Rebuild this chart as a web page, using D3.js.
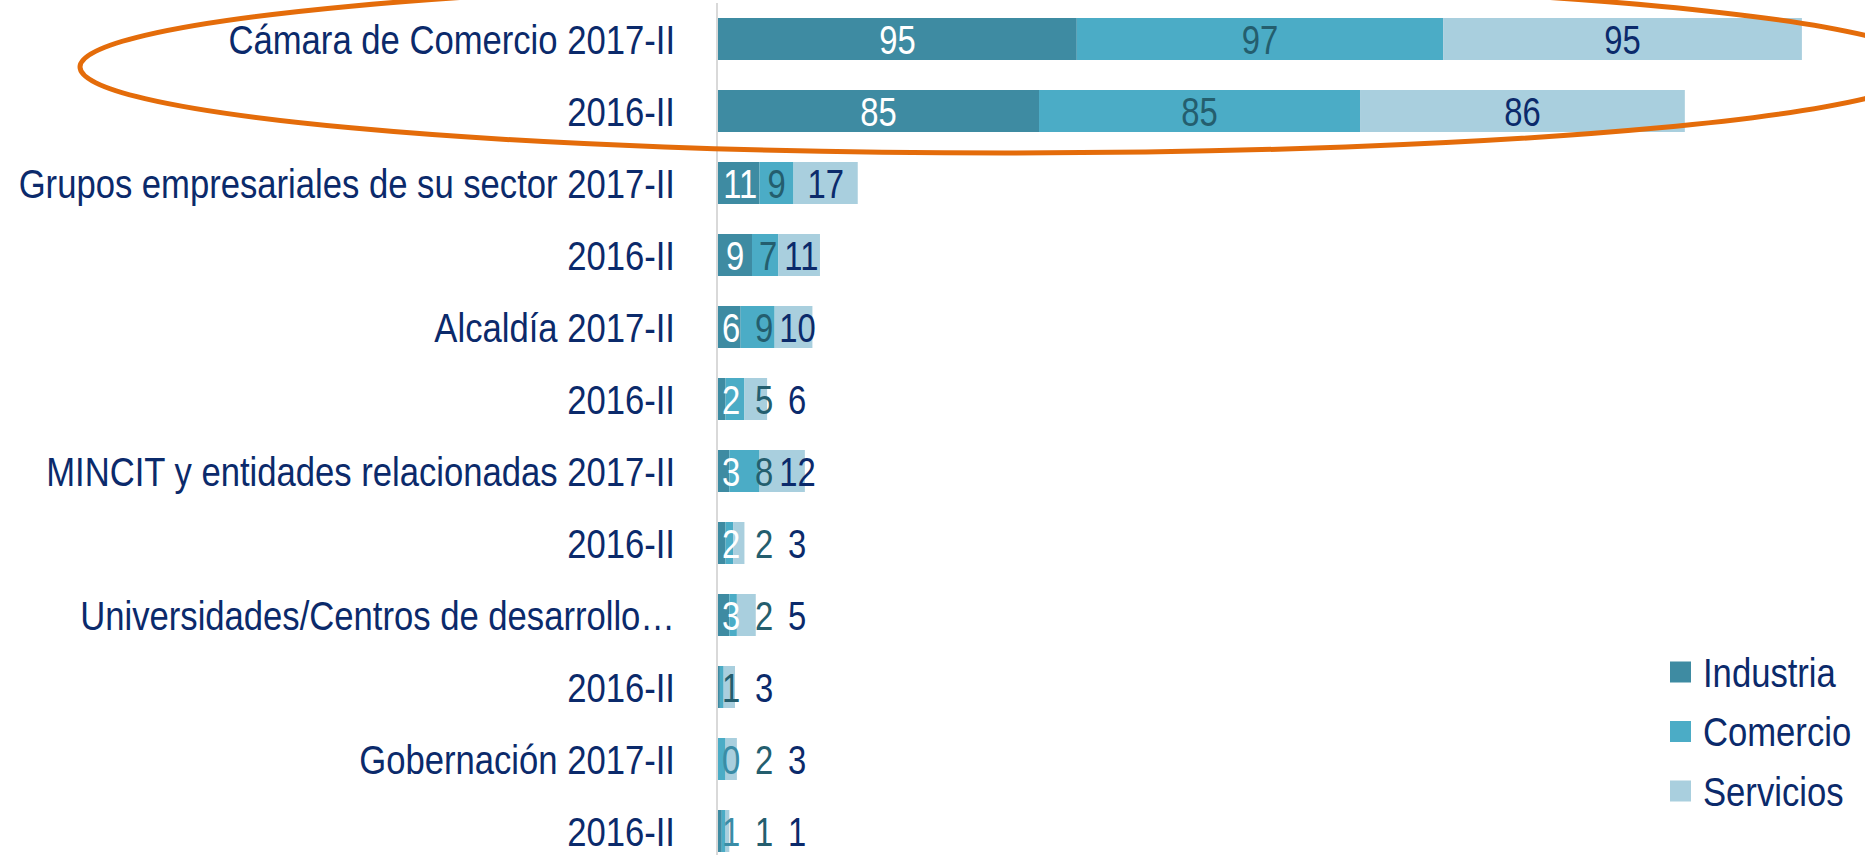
<!DOCTYPE html>
<html>
<head>
<meta charset="utf-8">
<script src="https://cdn.jsdelivr.net/npm/d3@7"></script>
<style>
  html, body { margin: 0; padding: 0; background: #fff; overflow: hidden; }
  svg { display: block; font-family: "Liberation Sans", Arial, sans-serif; }
</style>
</head>
<body>
<svg id="chart" width="1865" height="855"></svg>
<script>
// row labels (top to bottom)
const categories = [
  "Cámara de Comercio 2017-II", "2016-II",
  "Grupos empresariales de su sector 2017-II", "2016-II",
  "Alcaldía 2017-II", "2016-II",
  "MINCIT y entidades relacionadas 2017-II", "2016-II",
  "Universidades/Centros de desarrollo…", "2016-II",
  "Gobernación 2017-II", "2016-II"
];
const seriesNames = ["Industria", "Comercio", "Servicios"];
const industria = [95, 85, 11, 9, 6, 2, 3, 2, 3, 0.5, 0, 1];
const comercio  = [97, 85, 9, 7, 9, 5, 8, 2, 2, 1, 2, 1];
const servicios = [95, 86, 17, 11, 10, 6, 12, 3, 5, 3, 3, 1];

const colors = ["#3e8ba2", "#4bacc6", "#a9cfde"];
const labelColors = ["#ffffff", "#245e6e", "#0b2a6b"];
const softTeal = "#3a8ca6";
const navy = "#0b2a6b";

const FONT = 41;
const SQUEEZE_CAT = 0.845;  // text in the picture is set narrow
const SQUEEZE_NUM = 0.80;
const DIGIT_W = 0.556 * FONT * SQUEEZE_NUM;

const table = categories.map((c, i) => ({
  idx: i, cat: c,
  Industria: industria[i], Comercio: comercio[i], Servicios: servicios[i]
}));

const svg = d3.select("#chart");

const x = d3.scaleLinear().domain([0, 300]).range([718, 1851]);
const y = d3.scaleBand()
  .domain(d3.range(categories.length))
  .range([0, 870])
  .paddingInner(0.4167)
  .paddingOuter(0.25);

const stacked = d3.stack().keys(seriesNames)(table);

// bars
svg.append("g").attr("class", "bars")
  .selectAll("g")
  .data(stacked)
  .join("g")
  .attr("fill", (d, i) => colors[i])
  .selectAll("rect")
  .data(d => d)
  .join("rect")
  .attr("x", d => x(d[0]))
  .attr("y", d => y(d.data.idx))
  .attr("width", d => x(d[1]) - x(d[0]))
  .attr("height", y.bandwidth());

// category axis
const axis = svg.append("g")
  .attr("transform", `translate(${x(0) - 1},0)`)
  .call(d3.axisLeft(y).tickSize(0).tickSizeOuter(0).tickFormat(i => categories[i]));
axis.select(".domain")
  .attr("stroke", "#d9d9d9")
  .attr("stroke-width", 2)
  .attr("d", "M0,3V855");
axis.selectAll(".tick text")
  .attr("x", null)
  .attr("dy", "0.36em")
  .attr("transform", `translate(-42,0) scale(${SQUEEZE_CAT},1)`)
  .attr("fill", navy)
  .attr("font-size", FONT)
  .attr("font-family", "Liberation Sans, Arial, sans-serif");

// data labels: centred on their segment, pushed right when crowded
const labelData = [];
table.forEach((row, i) => {
  let prevX = null, prevW = 0;
  stacked.forEach((s, k) => {
    const v = row[seriesNames[k]];
    if (!Number.isInteger(v)) return;
    const txt = String(v);
    const w = txt.length * DIGIT_W;
    const c = x((s[i][0] + s[i][1]) / 2);
    const pos = prevX === null
      ? Math.max(c, x(0) + w / 2 + 4)
      : Math.max(c, prevX + Math.max(33, (prevW + w) / 2 + 6));
    let fill = labelColors[k];
    if (k === 0 && pos > x(row.Industria + row.Comercio) + 3) fill = softTeal;
    labelData.push({ i, txt, pos, fill });
    prevX = pos; prevW = w;
  });
});

svg.append("g").attr("class", "labels")
  .selectAll("text")
  .data(labelData)
  .join("text")
  .attr("transform", d => `translate(${d.pos},${y(d.i) + y.bandwidth() / 2}) scale(${SQUEEZE_NUM},1)`)
  .attr("dy", "0.36em")
  .attr("text-anchor", "middle")
  .attr("font-size", FONT)
  .attr("fill", d => d.fill)
  .text(d => d.txt);

// legend
const legend = svg.append("g")
  .attr("transform", "translate(1670,672)")
  .selectAll("g")
  .data(seriesNames)
  .join("g")
  .attr("transform", (d, i) => `translate(0,${i * 59.5})`);
legend.append("rect")
  .attr("x", 0).attr("y", -10.5)
  .attr("width", 21).attr("height", 21)
  .attr("fill", (d, i) => colors[i]);
legend.append("text")
  .attr("transform", `translate(33,0) scale(${SQUEEZE_CAT},1)`)
  .attr("dy", "0.36em")
  .attr("font-size", FONT)
  .attr("fill", navy)
  .text(d => d);

// orange highlight round the Cámara de Comercio rows
svg.append("ellipse")
  .attr("cx", 1005)
  .attr("cy", y(0) + 49)
  .attr("rx", 925)
  .attr("ry", 86)
  .attr("fill", "none")
  .attr("stroke", "#e46c0a")
  .attr("stroke-width", 5);
</script>
</body>
</html>
